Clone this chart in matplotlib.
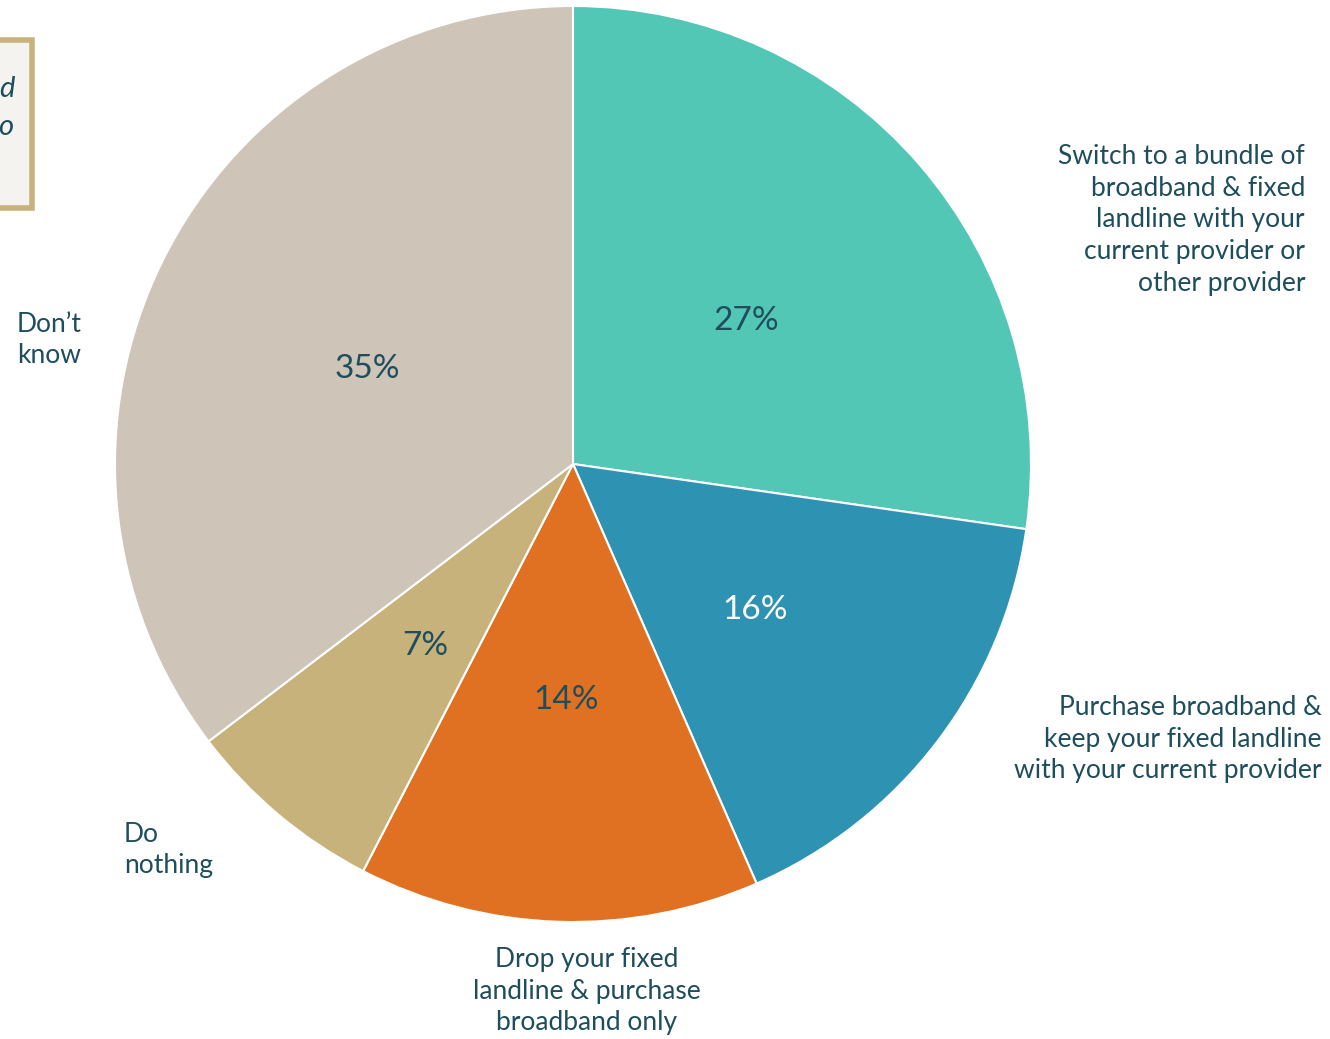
import numpy as np
import matplotlib.pyplot as plt
from matplotlib.patches import Rectangle

# Survey responses (%)
labels = [
    "Switch to a bundle of\nbroadband & fixed\nlandline with your\ncurrent provider or\nother provider",
    "Purchase broadband &\nkeep your fixed landline\nwith your current provider",
    "Drop your fixed\nlandline & purchase\nbroadband only",
    "Do\nnothing",
    "Don\u2019t\nknow",
]
values = [27, 16, 14, 7, 35]
colors = ["#52C7B6", "#2E93B3", "#E07122", "#C7B27C", "#CEC4B7"]
pct_colors = ["#1E4D5C", "white", "#1E4D5C", "#1E4D5C", "#1E4D5C"]

text_color = "#1E4D5C"
plt.rcParams['font.family'] = ['Lato', 'DejaVu Sans']

W, H = 1330, 1039
fig = plt.figure(figsize=(W / 100, H / 100), dpi=100)

# pie axes placed in pixel terms
cx, cy, r = 573, 464, 458
ax = fig.add_axes([(cx - r) / W, (H - cy - r) / H, 2 * r / W, 2 * r / H])
wedges, texts = ax.pie(values, colors=colors, startangle=90, counterclock=False,
                       wedgeprops=dict(edgecolor="white", linewidth=1.5))
ax.set_xlim(-1, 1)
ax.set_ylim(-1, 1)
ax.set_aspect("equal")
ax.axis("off")

# percentage labels at the middle of each wedge
total = sum(values)
start = 90
for v, c in zip(values, pct_colors):
    mid = np.deg2rad(start - v / total * 360 / 2)
    ax.text(0.5 * np.cos(mid), 0.5 * np.sin(mid) - 0.015, f"{v}%", ha="center",
            va="center", fontsize=24, color=c)
    start -= v / total * 360

# category labels around the pie
def px(x, y):
    return x / W, 1 - y / H

label_pos = [
    (1305, 220, "right"),
    (1322, 739, "right"),
    (587, 991, "center"),
    (124, 850, "left"),
    (17, 340, "left"),
]
for lab, (x, y, ha) in zip(labels, label_pos):
    fig.text(*px(x, y), lab, ha=ha, va="center", multialignment=ha,
             fontsize=19, color=text_color, linespacing=1.33)

# note box running off the left edge
box = Rectangle(px(-200, 208), 232 / W, 168 / H, transform=fig.transFigure,
                facecolor="#F5F3EF", edgecolor="#C7B27C", linewidth=4)
fig.patches.append(box)
fig.text(*px(15, 89), "d", ha="right", va="center", fontsize=21,
         style="italic", color=text_color)
fig.text(*px(13, 127), "o", ha="right", va="center", fontsize=21,
         style="italic", color=text_color)

fig.savefig("out.png", dpi=100)
